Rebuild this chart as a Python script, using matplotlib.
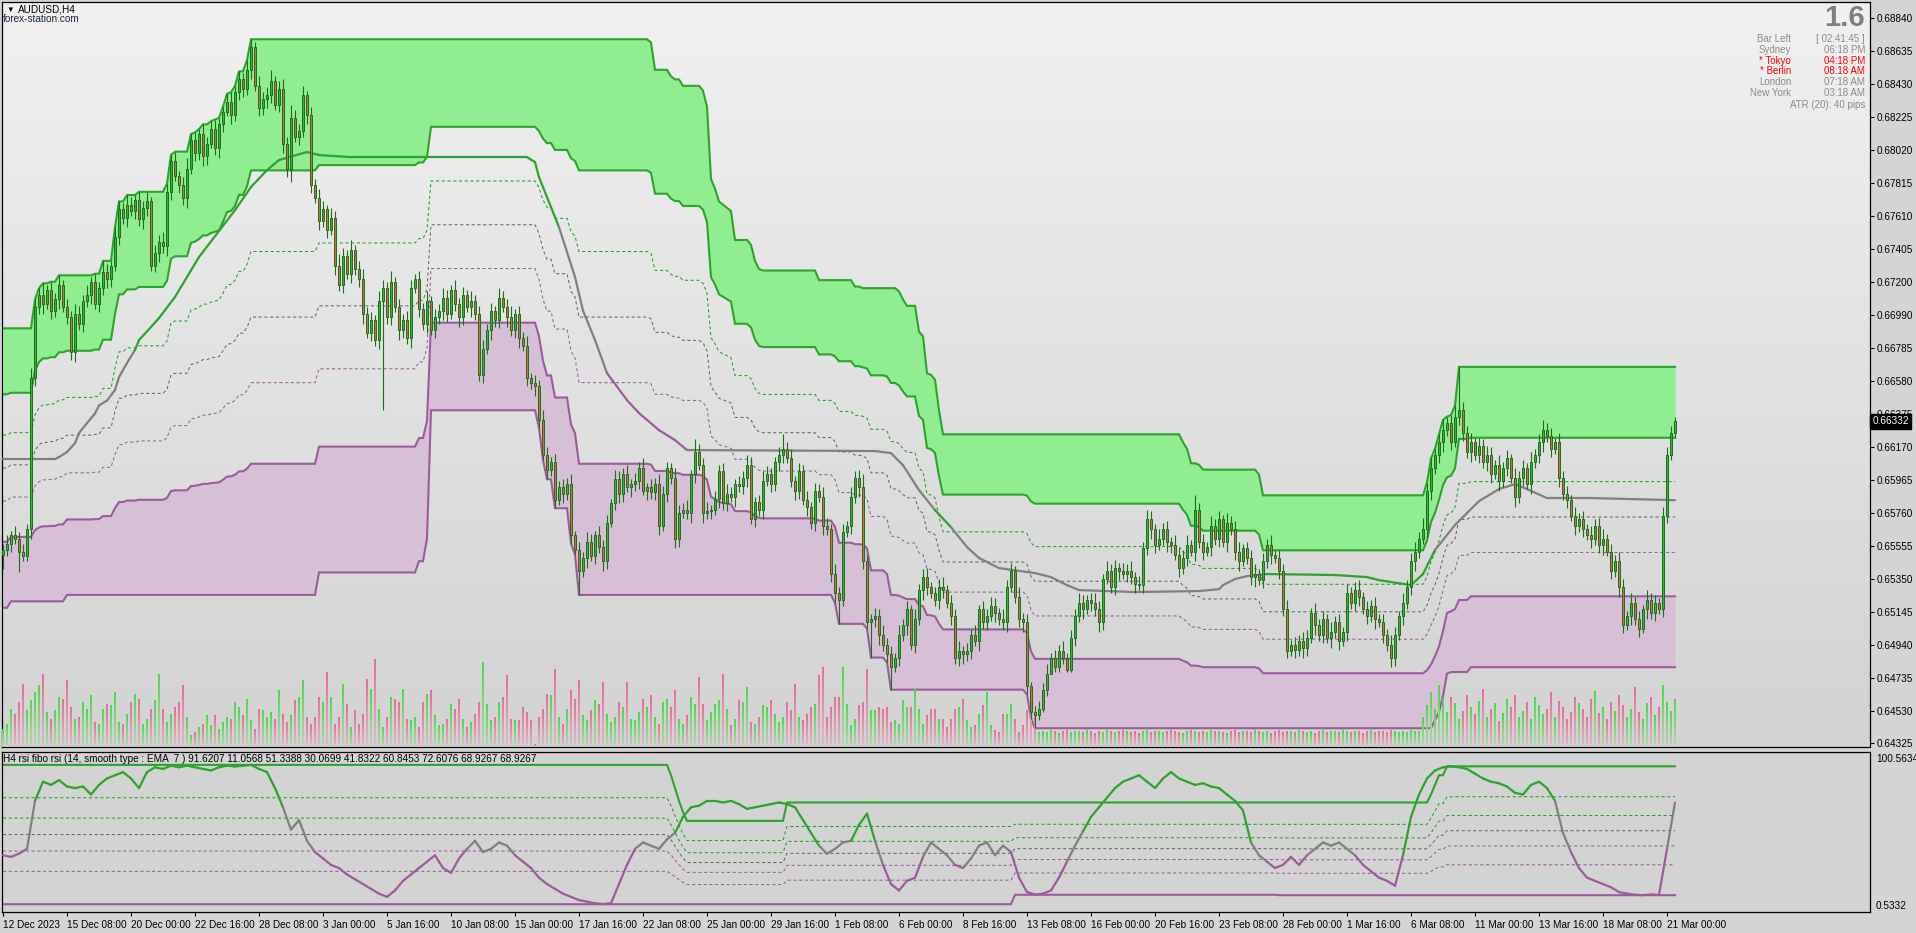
import numpy as np
import matplotlib
matplotlib.use("Agg")
import matplotlib.pyplot as plt
from matplotlib.collections import LineCollection
from matplotlib.transforms import blended_transform_factory

W, H, DPI = 1916, 933, 100
FONT = ["Liberation Sans", "DejaVu Sans"]

# ---------------- data (prices in pips, 0.0001) ----------------
first_open = 6550
closes = [
    6553, 6557, 6562, 6560, 6552, 6549, 6566, 6660, 6704,                     # 0-8
    6712, 6706, 6715, 6702, 6709, 6718, 6704, 6698, 6676, 6700, 6694, 6708,   # 9-20
    6712, 6720, 6706, 6716, 6726, 6722, 6730, 6748, 6765,                     # 21-29
    6760, 6768, 6764, 6771, 6759, 6766, 6770, 6730, 6738, 6745, 6742,         # 30-40
    6776, 6795, 6786, 6780, 6772, 6790, 6808, 6800, 6812, 6798, 6806,         # 41-51
    6815, 6803, 6818, 6826, 6832, 6824, 6838, 6846, 6840, 6852, 6866,         # 52-62
    6842, 6828, 6834, 6836, 6845, 6830, 6840, 6806, 6790, 6822,               # 63-72
    6810, 6814, 6836, 6824, 6780, 6772, 6758, 6765, 6752, 6760,               # 73-82
    6730, 6718, 6736, 6725, 6740, 6728, 6722, 6700, 6688, 6696, 6684,         # 83-93
    6708, 6716, 6698, 6720, 6704, 6690, 6696, 6685, 6716, 6722,               # 94-103
    6703, 6694, 6708, 6690, 6698, 6702, 6710, 6700, 6715, 6706, 6698, 6712, 6704,  # 104-116
    6708, 6700, 6662, 6678, 6690, 6702, 6696, 6710, 6704, 6698,               # 117-126
    6690, 6700, 6685, 6680, 6660, 6657, 6655, 6634, 6612, 6603, 6608,         # 127-137
    6584, 6592, 6588, 6594, 6562, 6553, 6540, 6548, 6558, 6549,               # 138-147
    6562, 6555, 6546, 6570, 6582, 6597, 6588, 6600, 6592, 6594, 6596,         # 148-158
    6604, 6590, 6592, 6589, 6594, 6568, 6588, 6604, 6598, 6560, 6576,         # 159-169
    6578, 6576, 6600, 6614, 6606, 6576, 6577, 6578, 6585, 6602, 6582, 6588,   # 170-181
    6586, 6594, 6593, 6598, 6606, 6572, 6583, 6578, 6596, 6600, 6594,         # 182-192
    6608, 6612, 6616, 6610, 6596, 6590, 6602, 6584, 6580, 6570, 6590, 6586,   # 193-204
    6568, 6566, 6538, 6526, 6522, 6564, 6568, 6586, 6598, 6592,               # 205-214
    6546, 6508, 6510, 6512, 6500, 6494, 6488, 6480, 6486, 6500, 6506,         # 215-225
    6516, 6494, 6510, 6528, 6536, 6530, 6526, 6522, 6530, 6528, 6520, 6512,   # 226-237
    6486, 6490, 6488, 6490, 6500, 6496, 6516, 6508, 6512, 6518, 6514,         # 238-248
    6510, 6508, 6530, 6540, 6524, 6510, 6508, 6468, 6452, 6450, 6454,         # 249-259
    6466, 6476, 6486, 6480, 6490, 6486, 6478, 6498,                           # 260-267
    6512, 6520, 6516, 6522, 6520, 6516, 6508, 6535, 6540, 6530, 6542, 6540,   # 268-279
    6538, 6540, 6536, 6532, 6531, 6554, 6572, 6566, 6556, 6560,               # 280-289
    6566, 6558, 6556, 6550, 6542, 6548, 6556, 6552, 6578, 6558, 6552, 6555,   # 290-301
    6568, 6560, 6572, 6558, 6570, 6566, 6552, 6546, 6554, 6548,               # 302-311
    6536, 6538, 6534, 6546, 6556, 6550, 6548, 6540, 6516, 6490, 6494, 6491,   # 312-323
    6496, 6492, 6498, 6514, 6506, 6500, 6510, 6498, 6502, 6508, 6496, 6502,   # 324-335
    6526, 6520, 6528, 6524, 6516, 6512, 6518, 6510, 6508, 6500, 6494, 6486,   # 336-347
    6500, 6512, 6520, 6530, 6546, 6552, 6560, 6566, 6590, 6604, 6612, 6620,   # 348-359
    6628, 6632, 6620, 6636, 6640, 6626, 6614, 6620, 6612,                     # 360-368
    6618, 6608, 6612, 6600, 6606, 6596, 6604, 6610, 6598,                     # 369-377
    6586, 6598, 6604, 6594, 6608, 6612, 6620, 6628, 6624, 6616, 6620,         # 378-388
    6598, 6588, 6584, 6574, 6568, 6572, 6566, 6562, 6560, 6568, 6556, 6560,   # 389-400
    6552, 6540, 6546, 6530, 6506, 6512, 6520, 6510, 6504, 6516,               # 401-410
    6522, 6514, 6520, 6516, 6574, 6612, 6626, 6633,                           # 411-418
]
wick_up = [
    4, 5, 3, 6, 4, 5, 3, 6, 5, 4, 7, 3, 5, 4, 6, 3, 5, 4, 6, 5,
    4, 6, 3, 5, 4, 7, 5, 3, 6, 5, 4, 6, 5, 3, 5, 4, 6, 3, 5, 4,
    6, 5, 4, 6, 3, 5, 7, 4, 5, 3, 6, 4, 5, 6, 4, 3, 5, 6, 4, 5,
    4, 6, 5, 3, 6, 4, 5, 7, 3, 5, 6, 4, 8, 5, 4, 6, 3, 5, 4, 6,
    5, 3, 6, 4, 7, 5, 4, 6, 3, 5, 6, 4, 5, 3, 6, 5, 4, 7, 3, 5,
    4, 6, 5, 3, 5, 4, 6, 3, 5, 4, 6, 5, 3, 6, 4, 5, 3, 6, 4, 5,
    6, 4, 5, 3, 6, 4, 5, 7, 3, 5, 4, 6, 3, 5, 4, 6, 5, 3, 5, 4,
    5, 4, 6, 3, 5, 4, 6, 5, 3, 6, 4, 5, 3, 6, 5, 4, 6, 3, 5, 4,
    6, 3, 5, 4, 6, 5, 4, 3, 6, 5, 4, 6, 3, 8, 5, 4, 6, 3, 5, 4,
    5, 6, 4, 3, 5, 4, 6, 5, 3, 4, 6, 5, 4, 3, 5, 9, 4, 6, 3, 5,
    4, 6, 3, 5, 4, 6, 5, 3, 6, 4, 5, 3, 6, 4, 5, 8, 4, 3, 5, 4,
    6, 4, 5, 3, 6, 4, 5, 3, 6, 4, 5, 6, 3, 4, 5, 6, 3, 5, 4, 6,
    3, 5, 4, 6, 3, 5, 4, 6, 5, 3, 6, 4, 5, 3, 6, 4, 5, 3, 4, 5,
    4, 6, 3, 5, 4, 6, 3, 5, 4, 6, 5, 3, 4, 6, 5, 3, 6, 4, 5, 3,
    5, 4, 6, 3, 5, 4, 6, 5, 3, 6, 4, 5, 3, 6, 4, 5, 6, 3, 9, 4,
    5, 3, 6, 4, 5, 3, 6, 4, 5, 6, 3, 4, 5, 6, 3, 5, 4, 6, 3, 5,
    4, 6, 3, 5, 4, 6, 5, 3, 6, 4, 5, 3, 6, 4, 5, 3, 6, 4, 5, 6,
    3, 5, 4, 6, 3, 5, 4, 6, 5, 3, 6, 4, 5, 6, 4, 7, 5, 6, 4, 5,
    6, 4, 5, 7, 27, 5, 4, 6, 3, 5, 4, 6, 5, 3, 6, 4, 5, 3, 6, 4,
    5, 3, 6, 4, 5, 6, 4, 5, 3, 6, 4, 5, 3, 6, 4, 5, 3, 6, 4, 5,
    6, 3, 5, 4, 6, 5, 3, 6, 4, 5, 3, 6, 4, 5, 3, 6, 5, 4, 3,
]
wick_dn = [
    9, 4, 5, 3, 13, 3, 3, 6, 5, 4, 6, 3, 5, 4, 6, 3, 4, 5, 6, 4,
    5, 4, 6, 3, 5, 4, 6, 5, 3, 5, 4, 6, 3, 5, 4, 6, 5, 3, 4, 6,
    4, 6, 5, 3, 5, 4, 6, 3, 5, 4, 6, 5, 3, 4, 6, 5, 3, 6, 4, 5,
    5, 4, 6, 3, 5, 4, 6, 5, 3, 4, 6, 5, 8, 3, 5, 4, 6, 5, 3, 6,
    4, 5, 3, 6, 4, 5, 3, 6, 4, 5, 6, 3, 5, 4, 6, 68, 4, 5, 3, 6,
    5, 4, 6, 3, 5, 4, 6, 3, 5, 4, 6, 5, 3, 4, 6, 5, 3, 6, 4, 4,
    5, 3, 6, 4, 5, 3, 6, 4, 5, 6, 3, 5, 4, 6, 5, 3, 6, 4, 5, 3,
    6, 4, 5, 3, 15, 4, 6, 3, 5, 4, 6, 5, 3, 4, 6, 5, 3, 6, 4, 5,
    3, 6, 4, 5, 6, 3, 5, 4, 6, 5, 3, 4, 6, 5, 3, 6, 4, 5, 3, 6,
    4, 5, 3, 6, 4, 5, 6, 3, 5, 4, 6, 3, 5, 4, 6, 5, 3, 4, 6, 5,
    3, 6, 4, 5, 3, 6, 4, 5, 6, 15, 4, 3, 5, 4, 6, 5, 4, 22, 5, 6,
    4, 5, 14, 3, 5, 4, 6, 3, 5, 4, 6, 5, 3, 4, 6, 5, 3, 6, 4, 5,
    6, 4, 5, 3, 6, 4, 5, 3, 6, 4, 5, 6, 3, 4, 5, 6, 5, 4, 8, 3,
    2, 4, 0, 3, 3, 4, 1, 1, 5, 4, 6, 3, 5, 4, 6, 5, 3, 4, 5, 6,
    3, 5, 4, 6, 3, 5, 4, 6, 5, 3, 4, 6, 5, 3, 6, 4, 5, 3, 6, 4,
    5, 3, 6, 4, 5, 3, 6, 4, 5, 6, 3, 4, 5, 6, 3, 5, 4, 6, 3, 5,
    4, 4, 3, 5, 4, 6, 5, 3, 6, 4, 5, 3, 6, 4, 5, 3, 6, 4, 5, 6,
    3, 5, 4, 6, 3, 5, 4, 6, 5, 3, 6, 4, 5, 6, 4, 3, 5, 6, 4, 5,
    6, 4, 5, 3, 5, 5, 4, 6, 3, 5, 4, 6, 5, 3, 6, 4, 5, 3, 6, 4,
    5, 3, 6, 4, 5, 6, 4, 5, 3, 6, 4, 5, 3, 6, 4, 5, 3, 6, 4, 5,
    6, 3, 5, 4, 6, 5, 3, 6, 4, 5, 3, 6, 4, 5, 3, 5, 4, 3, 3,
]
# tick volume, hundreds
volumes = [
    18, 23, 38, 33, 45, 63, 37, 47, 55, 62, 73, 35, 28, 37, 50, 48, 67, 40, 28, 30,
    45, 38, 52, 25, 23, 38, 43, 42, 55, 25, 23, 33, 45, 53, 48, 23, 28, 38, 47, 73,
    38, 25, 33, 40, 45, 62, 30, 12, 15, 20, 23, 32,
    22, 32, 18, 25, 30, 28, 45, 40, 32, 48, 27, 18, 38, 37, 30, 35, 28, 57, 33, 25,
    32, 47, 50, 67, 30, 23, 30, 50, 45, 75, 50, 23, 30, 63, 43, 20, 37, 23, 33, 68,
    58, 88, 38, 20, 30, 50, 48, 45, 58, 28, 27, 30, 20, 45, 53, 57, 32, 22,
    23, 28, 43, 38, 48, 28, 20, 25, 33, 45, 85, 43, 27, 30, 45, 50, 72, 28, 27, 27,
    40, 35, 27, 3, 30, 38, 53, 52, 78, 30, 23, 38, 57, 48, 67, 32, 27, 37, 47, 43,
    65, 33, 25, 30, 45, 40, 65, 28, 27, 35, 48, 40, 52, 30, 23, 45, 48, 40, 57, 28,
    23, 32, 50, 43, 70, 43, 27, 35, 43, 47, 73, 38, 22, 28, 47, 45, 60, 25, 23, 30,
    42, 40, 47, 33, 25, 30, 45, 37, 63, 30, 27, 33, 40, 43, 72, 80, 30, 40, 50, 50,
    80, 43, 22, 28, 42, 45, 78, 37, 37, 40, 38, 40, 25, 27, 23, 47, 40, 40, 58,
    38, 23, 32, 38, 38, 28, 28, 20, 28, 38, 40, 48, 27, 20, 22, 33, 42, 55, 22, 17,
    15, 33, 33, 43, 28, 15, 22, 37, 45, 30, 15,
    16, 15, 17, 16, 14, 16, 17, 15, 16, 16, 15, 17, 16, 14, 16, 15, 17, 16, 15, 16,
    17, 16, 15, 16, 14, 16, 17, 15, 16, 16, 15, 16, 17, 16, 15, 14, 16, 17, 16, 15,
    16, 15, 17, 16, 16, 15, 14, 16, 17, 15, 16, 16, 15, 17, 16, 15, 16, 14, 16, 17,
    15, 16, 16, 15, 17, 16, 15, 16, 14, 16, 17, 15, 16, 16, 15, 17, 16, 15, 16, 16,
    14, 16, 17, 15, 16, 16, 15, 17, 16, 15, 16, 15, 17, 16, 16,
    30, 42, 55, 38, 62, 48, 35, 50, 44, 28, 36, 52, 40, 33, 46, 58, 30, 38, 44, 26,
    34, 48, 40, 52, 30, 36, 45, 28, 50, 42, 33, 38, 55, 30, 46, 40, 28, 35, 50, 44,
    38, 30, 48, 56, 34, 40, 28, 45, 36, 52, 42, 30, 38, 60, 35, 28, 44, 50, 32, 40,
    62, 45, 36, 48,
]

# channel levels still inside the window from bars before the first one: (last bar, level)
pre_high = [(30, 6691)]
pre_low = [(1, 6517), (15, 6521), (78, 6525)]
channel_len = 100

# smoothed line of the price panel: (bar, pips)
mid_bars = [0, 13, 14, 16, 18, 19, 21, 23, 24, 26, 28, 29, 31, 33, 34, 37, 39, 43, 49, 58,
            62, 66, 69, 76, 79, 87, 131, 133, 134, 136, 139, 143, 145, 148, 151, 156, 159, 164, 168, 171,
            218, 222, 225, 229, 233, 237, 241, 244, 249, 258, 262, 266, 269, 283, 299, 304, 305, 308, 311, 316,
            333, 341, 344, 352, 355, 358, 363, 366, 369, 374, 378, 381, 386, 397, 418]
mid_vals = [6609.6, 6609.6, 6610.8, 6614.0, 6619.5, 6625.8, 6632.0, 6638.0, 6643.0, 6646.0,
            6652.6, 6660.6, 6669.4, 6677.5, 6683.7, 6691.8, 6697.4, 6710.5, 6735.4, 6764.6,
            6779.0, 6789.5, 6795.8, 6800.8, 6798.9, 6797.6, 6797.6, 6794.5, 6785.2, 6772.7,
            6754.0, 6723.0, 6702.0, 6683.7, 6663.1, 6646.3, 6638.2, 6627.6, 6621.4, 6615.2,
            6614.6, 6613.3, 6605.8, 6590.3, 6577.8, 6567.2, 6554.8, 6548.0, 6541.7, 6538.6,
            6536.1, 6531.1, 6528.0, 6526.8, 6527.4, 6528.6, 6531.1, 6534.9, 6536.7, 6538.0,
            6537.4, 6536.1, 6534.2, 6531.1, 6538.0, 6553.0, 6568.5, 6576.0, 6583.4, 6590.9,
            6594.0, 6590.9, 6585.3, 6585.3, 6584.0]

# rsi fibo panel, one value every second bar
rsi_step = 2
rsi_vals = [
    36, 35, 37, 40, 70, 82, 80, 83, 79, 78, 79, 74, 80, 84, 86, 88, 84, 78, 88, 91,
    90, 92, 91, 92, 91, 90, 89, 91, 92, 91.5, 92, 92.5, 90, 88, 78, 66, 52, 58, 45, 38,
    34, 30, 28, 24, 21, 18, 15, 12, 10, 14, 20, 24, 28, 32, 36, 28, 25, 34, 40, 45,
    38, 40, 44, 42, 36, 32, 28, 22, 18, 15, 12, 10, 8, 7, 6, 5.5, 6, 18, 30, 40,
    44, 42, 40, 46, 50, 60, 66, 67, 70, 70, 69, 70, 68, 65, 66, 67, 68, 69, 68, 66,
    58, 50, 42, 37, 40, 44, 45, 55, 62, 45, 30, 18, 14, 20, 22, 35, 44, 40, 36, 30,
    28, 34, 42, 44, 36, 42, 38, 22, 13, 11.5, 12, 14, 22, 32, 42, 51, 60, 66, 72, 78,
    82, 84, 86, 82, 78, 84, 88, 84, 82, 80, 81, 79, 78, 74, 70, 64, 44, 36, 32, 28,
    30, 35, 30, 36, 40, 44, 42, 44, 40, 36, 30, 26, 22, 20, 17, 36, 60, 74, 84, 89,
    91, 91.6, 91, 90, 87, 84, 82, 81, 79, 75, 74, 80, 82, 78, 70, 50, 38, 28, 22, 20,
    18, 16, 13, 12, 11.3, 11.06, 11.5, 11.2, 40, 68.93,
]
rsi_hi_steps = [(0, 92.5), (167, 86), (168, 78), (169, 70), (170, 63), (171, 57.5),
                (196, 69), (357, 74), (358, 80), (359, 86), (361, 91.6207)]
rsi_lo_steps = [(0, 5.4), (253, 11.3), (319, 11.0568)]

price_labels = ["0.68840", "0.68635", "0.68430", "0.68225", "0.68020", "0.67815", "0.67610",
                "0.67405", "0.67200", "0.66990", "0.66785", "0.66580", "0.66375", "0.66170",
                "0.65965", "0.65760", "0.65555", "0.65350", "0.65145", "0.64940", "0.64735",
                "0.64530", "0.64325"]
date_labels = ["12 Dec 2023", "15 Dec 08:00", "20 Dec 00:00", "22 Dec 16:00", "28 Dec 08:00",
               "3 Jan 00:00", "5 Jan 16:00", "10 Jan 08:00", "15 Jan 00:00", "17 Jan 16:00",
               "22 Jan 08:00", "25 Jan 00:00", "29 Jan 16:00", "1 Feb 08:00", "6 Feb 00:00",
               "8 Feb 16:00", "13 Feb 08:00", "16 Feb 00:00", "20 Feb 16:00", "23 Feb 08:00",
               "28 Feb 00:00", "1 Mar 16:00", "6 Mar 08:00", "11 Mar 00:00", "13 Mar 16:00",
               "18 Mar 08:00", "21 Mar 00:00"]
bars_per_label = 16

info_rows = [("Bar Left", "[ 02:41:45 ]", "#8c8c8c"), ("Sydney", "06:18 PM", "#8c8c8c"),
             ("* Tokyo", "04:18 PM", "#ff0000"), ("* Berlin", "08:18 AM", "#ff0000"),
             ("London", "07:18 AM", "#8c8c8c"), ("New York", "03:18 AM", "#8c8c8c")]

n = len(closes)
assert len(wick_up) == n and len(wick_dn) == n and len(volumes) == n, (n, len(wick_up), len(wick_dn), len(volumes))
assert len(rsi_vals) == len(range(0, n, rsi_step)), len(rsi_vals)

# ---------------- derived series ----------------
c = np.array(closes, float)
o = np.concatenate([[first_open], c[:-1]])
hi_px = np.maximum(o, c) + np.array(wick_up)
lo_px = np.minimum(o, c) - np.array(wick_dn)

ch_hi = np.empty(n)
ch_lo = np.empty(n)
for i in range(n):
    s = max(0, i - channel_len + 1)
    h, l = hi_px[s:i + 1].max(), lo_px[s:i + 1].min()
    for last, lvl in pre_high:
        if i <= last:
            h = max(h, lvl)
    for last, lvl in pre_low:
        if i <= last:
            l = min(l, lvl)
    ch_hi[i], ch_lo[i] = h, l
rng = ch_hi - ch_lo


def steps_to_bars(steps):
    out = np.empty(n)
    for k, (start, val) in enumerate(steps):
        end = steps[k + 1][0] if k + 1 < len(steps) else n
        out[start:end] = val
    return out


P = 1e-4
GREEN = "#2aa52a"
PURPLE = "#9c5c9c"
GREY = "#808080"

fig = plt.figure(figsize=(W / DPI, H / DPI), dpi=DPI, facecolor="#d4d4d4")


def px_axes(left, top, right, bottom):
    return fig.add_axes([left / W, 1 - bottom / H, (right - left) / W, (bottom - top) / H])


ax = px_axes(2, 2, 1870, 747)
ax2 = px_axes(2, 752, 1870, 912)
xlim = ((2 - 3) / 4, (1870 - 3) / 4)
ylim = (0.64303, 0.68942)

# panel background
grad = np.linspace(0.945, 0.826, 200)[:, None]
ax.imshow(np.dstack([grad] * 3), extent=(xlim[0], xlim[1], ylim[0], ylim[1]),
          aspect="auto", zorder=0, interpolation="bilinear")
ax2.set_facecolor("#d3d3d3")

x = np.arange(n)

# fibo channel
ax.fill_between(x, ch_hi * P, (ch_hi - 0.236 * rng) * P, color="#90ee90", lw=0, zorder=1)
ax.fill_between(x, ch_lo * P, (ch_lo + 0.236 * rng) * P, color="#d8bfd8", lw=0, zorder=1)
for lvl, col in [(ch_hi, GREEN), (ch_hi - 0.236 * rng, GREEN), (ch_lo, PURPLE), (ch_lo + 0.236 * rng, PURPLE)]:
    ax.plot(x, lvl * P, color=col, lw=1.5, zorder=2, solid_joinstyle="miter")
for f, col in [(0.382, "#22a022"), (0.5, "#666666"), (0.618, PURPLE)]:
    ax.plot(x, (ch_hi - f * rng) * P, color=col, lw=0.75, ls=(0, (3, 2.5)), zorder=2)

# smoothed line, coloured against the fibo levels
mb = np.array(mid_bars)
mv = np.array(mid_vals)
segs, cols = [], []
for k in range(len(mb) - 1):
    segs.append([(mb[k], mv[k] * P), (mb[k + 1], mv[k + 1] * P)])
    b = int(round((mb[k] + mb[k + 1]) / 2))
    v = (mv[k] + mv[k + 1]) / 2
    if v > ch_hi[b] - 0.382 * rng[b]:
        cols.append(GREEN)
    elif v < ch_hi[b] - 0.618 * rng[b]:
        cols.append(PURPLE)
    else:
        cols.append(GREY)
ax.add_collection(LineCollection(segs, colors=cols, linewidths=1.6, zorder=3, capstyle="round"))

# volumes with a vertical fade
up = c >= o
px_price = (ylim[1] - ylim[0]) / 745
rows = 100
vol_img = np.zeros((rows, n * 4, 4))
top_up = np.array([70, 220, 70]) / 255
top_dn = np.array([232, 108, 150]) / 255
pale = np.array([214, 206, 210]) / 255
for i, v in enumerate(volumes):
    h = int(round(v))
    if h <= 0:
        continue
    top = top_up if up[i] else top_dn
    t = np.linspace(0.15, 1, h)[:, None]
    col = pale + (top - pale) * t
    vol_img[:h, 4 * i + 1:4 * i + 3, :3] = col[:, None, :]
    vol_img[:h, 4 * i + 1:4 * i + 3, 3] = 1
ax.imshow(vol_img, origin="lower", extent=(-0.5, n - 0.5, ylim[0], ylim[0] + rows * px_price),
          aspect="auto", interpolation="nearest", zorder=4)

# candles
outline = "#1c6e1c"
ax.vlines(x, lo_px * P, hi_px * P, color=outline, lw=0.8, zorder=5)
body = np.maximum(np.abs(c - o), 0.4) * P
ax.bar(x, body, bottom=np.minimum(o, c) * P, width=0.68,
       color=["#36b436" if u else "#d8684a" for u in up], edgecolor=outline, linewidth=0.7, zorder=6)

ax.set_xlim(*xlim)
ax.set_ylim(*ylim)
ax.set_xticks([])
ax.yaxis.tick_right()
ax.set_yticks([float(s) for s in price_labels])
ax.set_yticklabels(price_labels)
ax.tick_params(axis="y", direction="out", length=3, width=0.8, pad=2, labelsize=7.2)
for lbl in ax.get_yticklabels():
    lbl.set_fontfamily(FONT)

# current price tag
tr = blended_transform_factory(ax.transAxes, ax.transData)
ax.text(1.0012, closes[-1] * P, "0.66332", transform=tr, color="white", fontsize=7.2, family=FONT,
        va="center", ha="left", zorder=10, clip_on=False,
        bbox=dict(boxstyle="square,pad=0.22", facecolor="black", edgecolor="black"))

# ---------------- rsi panel ----------------
rx = np.arange(0, n, rsi_step)
rv = np.array(rsi_vals, float)
r_hi = steps_to_bars(rsi_hi_steps)
r_lo = steps_to_bars(rsi_lo_steps)
r_rng = r_hi - r_lo
ax2.plot(x, r_hi, color=GREEN, lw=1.5, zorder=2)
ax2.plot(x, r_lo, color=PURPLE, lw=1.5, zorder=2)
for f, col in [(0.764, "#22a022"), (0.618, "#22a022"), (0.5, "#666666"), (0.382, PURPLE), (0.236, PURPLE)]:
    ax2.plot(x, r_lo + f * r_rng, color=col, lw=0.75, ls=(0, (3, 2.5)), zorder=2)
segs, cols = [], []
for k in range(len(rx) - 1):
    segs.append([(rx[k], rv[k]), (rx[k + 1], rv[k + 1])])
    b = int(rx[k]) + 1
    v = (rv[k] + rv[k + 1]) / 2
    if v > r_lo[b] + 0.618 * r_rng[b]:
        cols.append(GREEN)
    elif v < r_lo[b] + 0.382 * r_rng[b]:
        cols.append(PURPLE)
    else:
        cols.append(GREY)
ax2.add_collection(LineCollection(segs, colors=cols, linewidths=1.6, zorder=3, capstyle="round"))
ax2.set_xlim(*xlim)
ax2.set_ylim(0.5332, 100.5634)
ax2.set_yticks([])
ax2.set_xticks(np.arange(len(date_labels)) * bars_per_label)
ax2.set_xticklabels(date_labels)
ax2.tick_params(axis="x", direction="out", length=3, width=0.8, pad=2.5, labelsize=7.2)
for lbl in ax2.get_xticklabels():
    lbl.set_ha("left")
    lbl.set_fontfamily(FONT)
ax2.text(1.0032, 0.955, "100.5634", transform=ax2.transAxes, fontsize=7.2, family=FONT, va="center", ha="left")
ax2.text(1.0032, 0.04, "0.5332", transform=ax2.transAxes, fontsize=7.2, family=FONT, va="center", ha="left")
ax2.text(0.0008, 0.955, "H4 rsi fibo rsi (14, smooth type : EMA  7 ) 91.6207 11.0568 51.3388 30.0699 "
         "41.8322 60.8453 72.6076 68.9267 68.9267", transform=ax2.transAxes, fontsize=7.2,
         family=FONT, va="center", ha="left", zorder=10)

for a in (ax, ax2):
    for sp in a.spines.values():
        sp.set_color("black")
        sp.set_linewidth(0.9)

# ---------------- header texts ----------------
fig.text(6 / W, 1 - 10 / H, "\u25bc", fontsize=5.5, family=FONT, va="center", ha="left")
fig.text(18 / W, 1 - 10 / H, "AUDUSD,H4", fontsize=7.2, family=FONT, va="center", ha="left")
fig.text(3 / W, 1 - 19.5 / H, "forex-station.com", fontsize=7.2, family=FONT, va="center", ha="left",
         color="#1c2a3a")
fig.text(1865 / W, 1 - 18.5 / H, "1.6", fontsize=21, family=FONT, weight="bold", color="#7f7f7f",
         va="center", ha="right")
for k, (name, val, col) in enumerate(info_rows):
    yy = 1 - (39 + 10.8 * k) / H
    fig.text(1791 / W, yy, name, fontsize=7, family=FONT, color=col, va="center", ha="right")
    fig.text(1865 / W, yy, val, fontsize=7, family=FONT, color=col, va="center", ha="right")
fig.text(1865 / W, 1 - 105 / H, "ATR (20): 40 pips", fontsize=7, family=FONT, color="#8c8c8c",
         va="center", ha="right")

fig.savefig("out.png", dpi=DPI, facecolor=fig.get_facecolor())
